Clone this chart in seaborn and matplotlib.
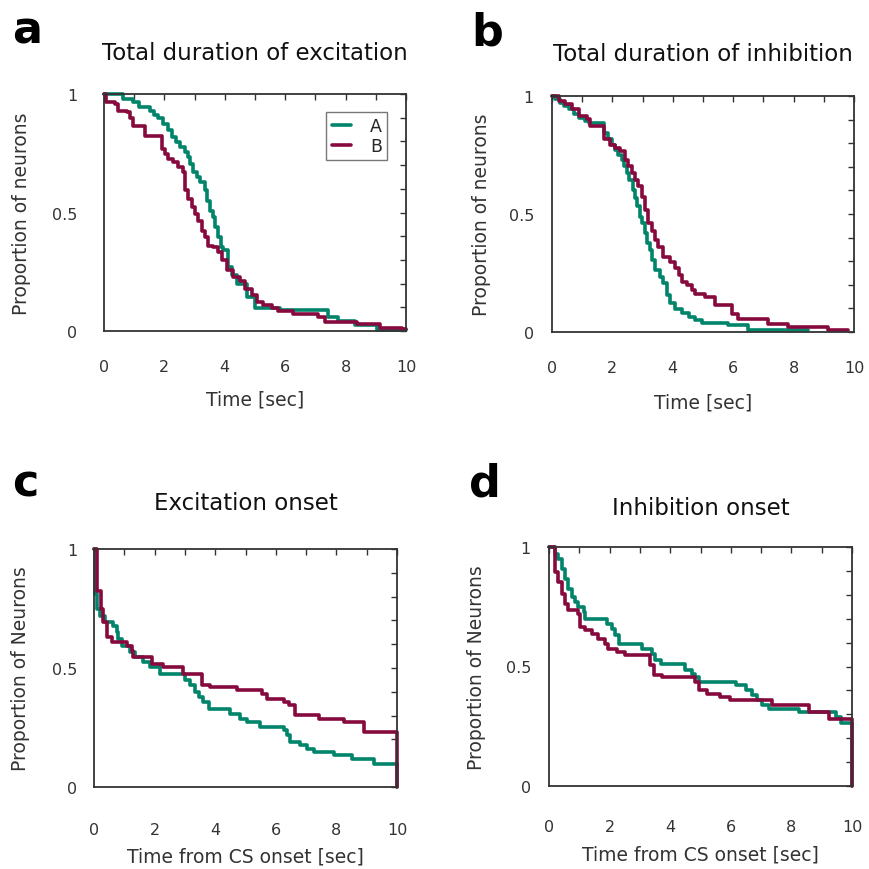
import numpy as np
import pandas as pd
import matplotlib
matplotlib.use('Agg')
import matplotlib.pyplot as plt
import seaborn as sns

# --- Data: step curves (time of step, proportion after step) ---

# a) Total duration of excitation
exc_dur_A_t = [0, 0.64, 0.97, 1.17, 1.52, 1.66, 1.80, 1.96, 2.13, 2.24, 2.38, 2.52, 2.68, 2.79, 2.85,
               2.96, 3.07, 3.18, 3.34, 3.42, 3.51, 3.62, 3.68, 3.79, 3.86, 3.95, 4.12, 4.23, 4.39,
               4.72, 5.00, 5.83, 7.43, 7.76, 8.31, 9.03, 10]
exc_dur_A_p = [1.0, 0.979, 0.965, 0.944, 0.93, 0.913, 0.90, 0.874, 0.846, 0.817, 0.796, 0.775, 0.754,
               0.733, 0.705, 0.67, 0.649, 0.628, 0.593, 0.55, 0.508, 0.48, 0.438, 0.396, 0.354, 0.34,
               0.27, 0.235, 0.2, 0.143, 0.098, 0.087, 0.059, 0.042, 0.024, 0.006, 0.006]
exc_dur_B_t = [0, 0.07, 0.36, 0.47, 0.75, 0.86, 0.97, 1.36, 1.91, 2.02, 2.13, 2.30, 2.46, 2.63, 2.68,
               2.79, 2.90, 3.01, 3.12, 3.23, 3.34, 3.45, 3.62, 3.79, 3.90, 4.06, 4.28, 4.50, 4.67,
               4.89, 5.06, 5.28, 5.55, 5.77, 6.27, 7.10, 7.32, 8.37, 9.14, 9.86, 10]
exc_dur_B_p = [1.0, 0.965, 0.958, 0.93, 0.923, 0.90, 0.865, 0.824, 0.768, 0.747, 0.726, 0.712, 0.69,
               0.67, 0.593, 0.558, 0.522, 0.494, 0.466, 0.424, 0.396, 0.36, 0.354, 0.333, 0.298, 0.256,
               0.228, 0.213, 0.178, 0.15, 0.122, 0.111, 0.098, 0.084, 0.07, 0.059, 0.038, 0.028,
               0.014, 0.008, 0.008]

# b) Total duration of inhibition
inh_dur_A_t = [0, 0.11, 0.28, 0.39, 0.55, 0.72, 0.88, 1.10, 1.21, 1.71, 1.87, 1.98, 2.09, 2.20, 2.31,
               2.40, 2.48, 2.56, 2.67, 2.75, 2.81, 2.92, 2.97, 3.08, 3.14, 3.25, 3.30, 3.41, 3.58,
               3.69, 3.80, 3.91, 4.07, 4.30, 4.52, 4.74, 4.96, 5.84, 6.50, 8.48]
inh_dur_A_p = [1.0, 0.986, 0.972, 0.957, 0.943, 0.922, 0.908, 0.894, 0.887, 0.844, 0.816, 0.794,
               0.773, 0.752, 0.73, 0.702, 0.674, 0.645, 0.603, 0.567, 0.532, 0.489, 0.461, 0.418,
               0.376, 0.348, 0.305, 0.262, 0.234, 0.206, 0.156, 0.121, 0.099, 0.081, 0.064, 0.05,
               0.038, 0.028, 0.010, 0.010]
inh_dur_B_t = [0, 0.22, 0.44, 0.66, 0.88, 1.16, 1.27, 1.71, 1.93, 2.09, 2.26, 2.42, 2.53, 2.64, 2.75,
               2.86, 2.97, 3.08, 3.19, 3.30, 3.41, 3.52, 3.69, 3.91, 4.07, 4.19, 4.30, 4.46, 4.63,
               4.74, 5.07, 5.40, 5.95, 6.17, 7.16, 7.82, 9.14, 9.80]
inh_dur_B_p = [1.0, 0.979, 0.965, 0.943, 0.915, 0.901, 0.872, 0.816, 0.794, 0.78, 0.766, 0.73, 0.702,
               0.674, 0.645, 0.617, 0.574, 0.518, 0.461, 0.426, 0.39, 0.362, 0.319, 0.298, 0.27,
               0.241, 0.213, 0.199, 0.177, 0.163, 0.149, 0.113, 0.078, 0.057, 0.035, 0.021, 0.007,
               0.007]

# c) Excitation onset
exc_on_A_t = [0, 0.03, 0.09, 0.20, 0.36, 0.64, 0.75, 0.80, 0.91, 1.19, 1.35, 1.63, 1.85, 2.18, 3.01,
              3.17, 3.34, 3.45, 3.61, 3.78, 4.49, 4.82, 5.04, 5.48, 6.26, 6.37, 6.48, 6.81, 7.03,
              7.25, 7.91, 8.51, 9.23, 10, 10]
exc_on_A_p = [1.0, 0.81, 0.748, 0.72, 0.692, 0.678, 0.65, 0.622, 0.594, 0.566, 0.545, 0.524, 0.503,
              0.476, 0.448, 0.427, 0.399, 0.378, 0.357, 0.329, 0.308, 0.287, 0.273, 0.252, 0.238,
              0.217, 0.189, 0.175, 0.161, 0.147, 0.133, 0.119, 0.098, 0.098, 0]
exc_on_B_t = [0, 0.10, 0.22, 0.31, 0.42, 0.58, 1.08, 1.24, 1.30, 1.91, 2.29, 2.95, 3.56, 3.83, 4.71,
              5.54, 5.70, 6.26, 6.42, 6.64, 7.41, 8.24, 8.90, 10, 10]
exc_on_B_p = [1.0, 0.825, 0.748, 0.692, 0.629, 0.608, 0.594, 0.573, 0.545, 0.517, 0.503, 0.476,
              0.427, 0.42, 0.406, 0.392, 0.371, 0.357, 0.343, 0.301, 0.287, 0.273, 0.231, 0.231, 0]

# d) Inhibition onset
inh_on_A_t = [0, 0.20, 0.31, 0.42, 0.53, 0.64, 0.75, 0.86, 0.97, 1.14, 1.19, 1.91, 2.08, 2.19, 2.30,
              3.07, 3.40, 3.51, 3.68, 4.50, 4.72, 4.83, 4.94, 6.16, 6.49, 6.71, 6.88, 7.04, 7.26,
              8.26, 9.47, 9.64, 10, 10]
inh_on_A_p = [1.0, 0.97, 0.951, 0.909, 0.867, 0.826, 0.791, 0.77, 0.749, 0.728, 0.70, 0.679, 0.658,
              0.63, 0.596, 0.575, 0.554, 0.526, 0.512, 0.484, 0.47, 0.456, 0.435, 0.421, 0.40,
              0.379, 0.358, 0.338, 0.324, 0.31, 0.289, 0.262, 0.262, 0]
inh_on_B_t = [0, 0.20, 0.31, 0.42, 0.53, 0.64, 0.97, 1.03, 1.19, 1.41, 1.63, 1.85, 1.96, 2.24, 2.52,
              3.34, 3.45, 3.73, 4.83, 4.94, 5.22, 5.66, 5.99, 7.37, 8.59, 9.25, 10, 10]
inh_on_B_p = [1.0, 0.895, 0.854, 0.805, 0.763, 0.735, 0.721, 0.665, 0.651, 0.637, 0.616, 0.596,
              0.575, 0.561, 0.547, 0.505, 0.463, 0.456, 0.435, 0.40, 0.386, 0.372, 0.358, 0.338,
              0.31, 0.28, 0.28, 0]

panel_letters = ['a', 'b', 'c', 'd']
titles = ['Total duration of excitation', 'Total duration of inhibition',
          'Excitation onset', 'Inhibition onset']
ylabels = ['Proportion of neurons', 'Proportion of neurons',
           'Proportion of Neurons', 'Proportion of Neurons']
xlabels = ['Time [sec]', 'Time [sec]', 'Time from CS onset [sec]', 'Time from CS onset [sec]']

panels = [
    (exc_dur_A_t, exc_dur_A_p, exc_dur_B_t, exc_dur_B_p),
    (inh_dur_A_t, inh_dur_A_p, inh_dur_B_t, inh_dur_B_p),
    (exc_on_A_t, exc_on_A_p, exc_on_B_t, exc_on_B_p),
    (inh_on_A_t, inh_on_A_p, inh_on_B_t, inh_on_B_p),
]

palette = {'A': '#00846a', 'B': '#870a3e'}

sns.set_style('white')
plt.rcParams['font.family'] = ['DejaVu Sans']

fig = plt.figure(figsize=(8.7, 8.7), dpi=100)

# axes boxes [left, bottom, width, height] in figure fraction
boxes = [
    [104 / 870, 1 - 332 / 870, 302 / 870, 237 / 870],
    [552 / 870, 1 - 333 / 870, 302 / 870, 236 / 870],
    [94 / 870, 1 - 788 / 870, 303 / 870, 238 / 870],
    [549 / 870, 1 - 787 / 870, 303 / 870, 239 / 870],
]
title_pads = [25, 26, 29, 24]
ytick_pads = [19, 13, 12, 13]
xtick_pads = [20, 20, 25, 24]
xlabel_y = [-0.287, -0.297, -0.29, -0.285]
ylabel_x = [-0.272, -0.232, -0.244, -0.238]
letter_pos = [(12, 43), (471, 45), (12, 497), (469, 497)]

for i, (ta, pa, tb, pb) in enumerate(panels):
    ax = fig.add_axes(boxes[i])
    df = pd.concat([
        pd.DataFrame({'time': ta, 'prop': pa, 'group': 'A'}),
        pd.DataFrame({'time': tb, 'prop': pb, 'group': 'B'}),
    ], ignore_index=True)
    sns.lineplot(data=df, x='time', y='prop', hue='group', palette=palette,
                 estimator=None, sort=False, drawstyle='steps-post',
                 linewidth=2.6, clip_on=False, legend=(i == 0), ax=ax)

    ax.set_xlim(0, 10)
    ax.set_ylim(0, 1)
    ax.set_xticks(np.arange(0, 11, 1))
    ax.set_xticklabels([str(v) if v % 2 == 0 else '' for v in range(11)])
    ax.set_yticks(np.linspace(0, 1, 11))
    ax.set_yticklabels(['0', '', '', '', '', '0.5', '', '', '', '', '1'])
    ax.tick_params(direction='in', top=True, right=True, length=4, width=1,
                   color='#333333', labelcolor='#333333', labelsize=11.5)
    ax.tick_params(axis='x', pad=xtick_pads[i])
    ax.tick_params(axis='y', pad=ytick_pads[i])
    for sp in ax.spines.values():
        sp.set_color('#333333')
        sp.set_linewidth(1.3)

    ax.set_xlabel(xlabels[i], fontsize=13.5, color='#333333')
    ax.set_ylabel(ylabels[i], fontsize=13.5, color='#333333')
    ax.xaxis.label.set_va('center')
    ax.yaxis.label.set_va('center')
    ax.xaxis.set_label_coords(0.5, xlabel_y[i])
    ax.yaxis.set_label_coords(ylabel_x[i], 0.5)
    ax.set_title(titles[i], fontsize=16.5, color='#111111', pad=title_pads[i])

    lx, ly = letter_pos[i]
    fig.text(lx / 870, 1 - ly / 870, panel_letters[i], fontsize=32, color='black',
             fontweight='bold', ha='left', va='baseline')

    if i == 0:
        leg = ax.legend(loc='upper right', bbox_to_anchor=(0.937, 0.924), fontsize=12.5,
                        handlelength=1.1, handletextpad=1.1, frameon=True,
                        fancybox=False, borderpad=0.3, labelspacing=0.1,
                        borderaxespad=0)
        leg.get_frame().set_edgecolor('#555555')
        leg.get_frame().set_linewidth(1.0)
        leg.set_title(None)

fig.savefig('out.png', dpi=100)
